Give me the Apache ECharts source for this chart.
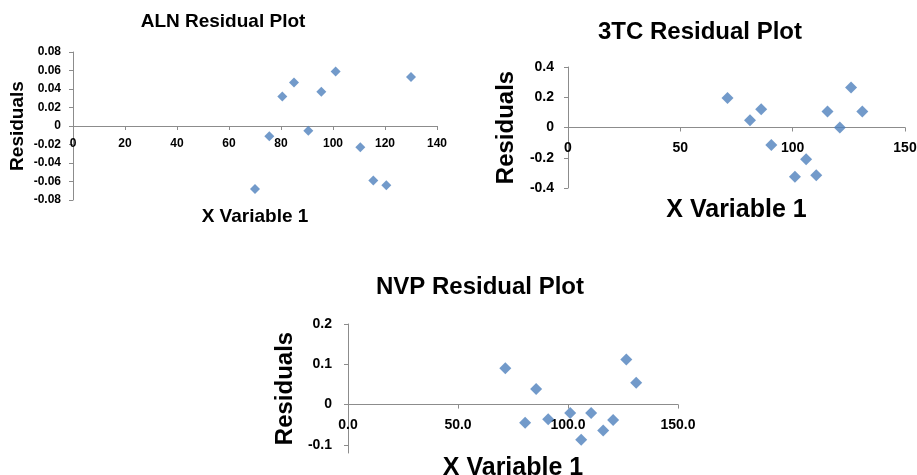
<!DOCTYPE html>
<html>
<head>
<meta charset="utf-8">
<script src="https://cdn.jsdelivr.net/npm/echarts@6/dist/echarts.min.js"></script>
<style>
  body { margin: 0; background: #fff; }
  #chart { width: 917px; height: 475px; }
</style>
</head>
<body>
<div id="chart"></div>
<script>
// ALN residuals
var alnX = [70, 75.5, 80.5, 85, 90.5, 95.5, 101, 110.5, 115.5, 120.5, 130];
var alnRes = [-0.068, -0.011, 0.032, 0.047, -0.005, 0.037, 0.059, -0.023, -0.059, -0.064, 0.053];

// 3TC residuals
var tcX = [71, 81, 86, 90.5, 101, 106, 110.5, 115.5, 121, 126, 131];
var tcRes = [0.195, 0.048, 0.12, -0.115, -0.325, -0.21, -0.315, 0.105, 0, 0.265, 0.105];

// NVP residuals
var nvpX = [71.5, 80.5, 85.5, 91, 101, 106, 110.5, 116, 120.5, 126.5, 131];
var nvpRes = [0.09, -0.045, 0.039, -0.036, -0.021, -0.087, -0.021, -0.064, -0.038, 0.112, 0.054];
var nvpYTicks = [-0.1, 0, 0.1, 0.2];

var FONT = 'Liberation Sans, Arial, sans-serif';
var AXIS_COLOR = '#8c8c8c';
var MARK_COLOR = '#4f81bd';

function pairs(xs, ys) {
    return xs.map(function (x, i) { return [x, ys[i]]; });
}

function axisBase(labelSize, nameSize) {
    return {
        type: 'value',
        splitLine: { show: false },
        axisLine: { show: true, onZero: false, lineStyle: { color: AXIS_COLOR, width: 1 } },
        axisTick: { show: true, length: 4, lineStyle: { color: AXIS_COLOR } },
        axisLabel: { color: '#000', fontWeight: 'bold', fontFamily: FONT, fontSize: labelSize },
        nameLocation: 'middle',
        nameTextStyle: { color: '#000', fontWeight: 'bold', fontFamily: FONT, fontSize: nameSize }
    };
}

function merge(a, b) {
    var o = {};
    Object.keys(a).forEach(function (k) { o[k] = a[k]; });
    Object.keys(b).forEach(function (k) {
        if (o[k] && typeof o[k] === 'object' && !Array.isArray(o[k]) && typeof b[k] === 'object') {
            o[k] = merge(o[k], b[k]);
        } else {
            o[k] = b[k];
        }
    });
    return o;
}

// the x axes cross at residual 0: shift them up from the grid bottom
var option = {
    animation: false,
    backgroundColor: '#fff',
    graphic: [
        { type: 'text', x: 223, y: 22, style: { text: 'ALN Residual Plot', font: 'bold 19px ' + FONT, fill: '#000', align: 'center', verticalAlign: 'middle' } },
        { type: 'text', x: 700, y: 32, style: { text: '3TC Residual Plot', font: 'bold 24px ' + FONT, fill: '#000', align: 'center', verticalAlign: 'middle' } },
        { type: 'text', x: 480, y: 287, style: { text: 'NVP Residual Plot', font: 'bold 24px ' + FONT, fill: '#000', align: 'center', verticalAlign: 'middle' } }
    ],
    grid: [
        { left: 73, top: 52, width: 364, height: 148, outerBoundsMode: 'none' },
        { left: 568, top: 67, width: 337, height: 121, outerBoundsMode: 'none' },
        { left: 348, top: 324, width: 330, height: 129, outerBoundsMode: 'none' }
    ],
    xAxis: [
        merge(axisBase(12, 19), {
            gridIndex: 0, min: 0, max: 140, interval: 20, offset: -74,
            name: 'X Variable 1', nameGap: 81,
            axisLabel: { margin: 12 }
        }),
        merge(axisBase(14, 25), {
            gridIndex: 1, min: 0, max: 150, interval: 50, offset: -60.5,
            name: 'X Variable 1', nameGap: 70,
            axisLabel: { margin: 14 }
        }),
        merge(axisBase(14, 25), {
            gridIndex: 2, min: 0, max: 150, interval: 50, offset: -48.4,
            name: 'X Variable 1', nameGap: 51,
            axisLabel: { margin: 14, formatter: function (v) { return v.toFixed(1); } }
        })
    ],
    yAxis: [
        merge(axisBase(12, 19), {
            gridIndex: 0, min: -0.08, max: 0.08, interval: 0.02,
            name: 'Residuals', nameGap: 46,
            axisLabel: { margin: 12 }
        }),
        merge(axisBase(14, 24), {
            gridIndex: 1, min: -0.4, max: 0.4, interval: 0.2,
            name: 'Residuals', nameGap: 50,
            axisLabel: { margin: 14 }
        }),
        merge(axisBase(14, 24), {
            gridIndex: 2, min: -0.12, max: 0.2,
            name: 'Residuals', nameGap: 51,
            axisLabel: { margin: 16, customValues: nvpYTicks },
            axisTick: { customValues: nvpYTicks }
        })
    ],
    series: [
        {
            type: 'scatter', xAxisIndex: 0, yAxisIndex: 0,
            symbol: 'diamond', symbolSize: 10,
            itemStyle: { color: MARK_COLOR },
            data: pairs(alnX, alnRes)
        },
        {
            type: 'scatter', xAxisIndex: 1, yAxisIndex: 1,
            symbol: 'diamond', symbolSize: 12,
            itemStyle: { color: MARK_COLOR },
            data: pairs(tcX, tcRes)
        },
        {
            type: 'scatter', xAxisIndex: 2, yAxisIndex: 2,
            symbol: 'diamond', symbolSize: 12,
            itemStyle: { color: MARK_COLOR },
            data: pairs(nvpX, nvpRes)
        }
    ]
};

var chart = echarts.init(document.getElementById('chart'));
chart.setOption(option);
</script>
</body>
</html>
